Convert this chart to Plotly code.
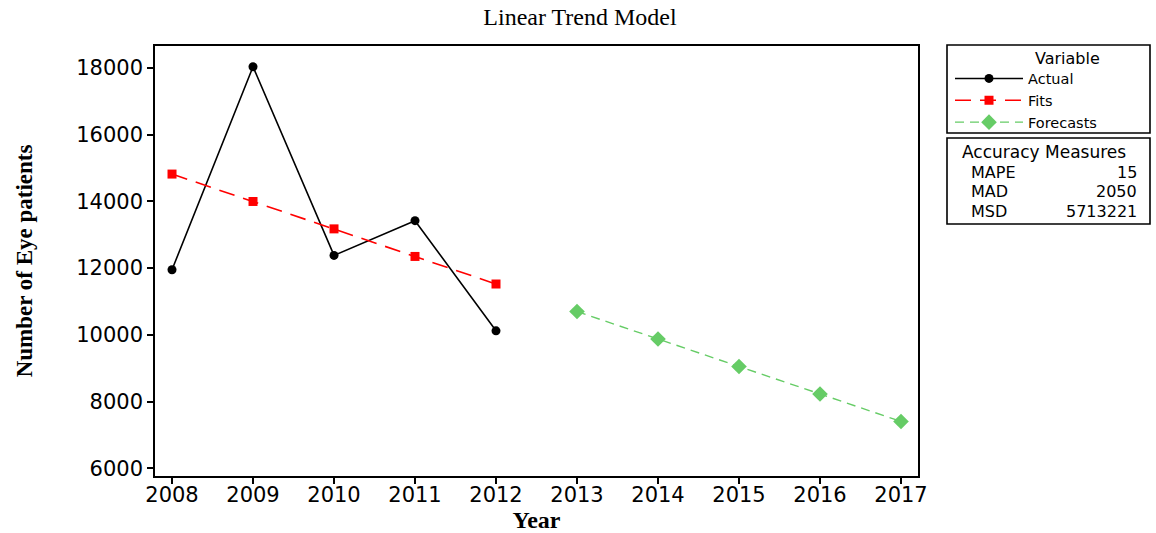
import plotly.graph_objects as go

years_fit = [2008, 2009, 2010, 2011, 2012]
actual = [11950, 18030, 12380, 13420, 10120]
fits = [14816, 13995, 13174, 12348, 11522]
years_fc = [2013, 2014, 2015, 2016, 2017]
forecasts = [10697, 9874, 9051, 8228, 7405]

x_ticks = list(range(2008, 2018))
y_ticks = [6000, 8000, 10000, 12000, 14000, 16000, 18000]

accuracy_labels = ["MAPE", "MAD", "MSD"]
accuracy_values = ["15", "2050", "5713221"]

sans = "DejaVu Sans"
serif = "Liberation Serif"

fig = go.Figure()
fig.add_trace(go.Scatter(x=years_fit, y=actual, name="Actual", mode="lines+markers",
                         line=dict(color="black", width=1.6),
                         marker=dict(symbol="circle", size=9, color="black")))
fig.add_trace(go.Scatter(x=years_fit, y=fits, name="Fits", mode="lines+markers",
                         line=dict(color="#ff0000", width=1.6, dash="16px,9px"),
                         marker=dict(symbol="square", size=9, color="#ff0000")))
fig.add_trace(go.Scatter(x=years_fc, y=forecasts, name="Forecasts", mode="lines+markers",
                         line=dict(color="#66cc66", width=1.4, dash="9px,6px"),
                         marker=dict(symbol="diamond", size=12, color="#66cc66")))

W, H = 1156, 533
L, R, T, B = 155, 238, 46, 57
pw, ph = W - L - R, H - T - B

def px(xp):
    return (xp - L) / pw

def py(yp):
    return (H - B - yp) / ph

fig.update_layout(
    width=W, height=H,
    margin=dict(l=L, r=R, t=T, b=B, autoexpand=False),
    plot_bgcolor="white", paper_bgcolor="white",
    title=dict(text="Linear Trend Model", x=580 / W, xanchor="center",
               y=1 - 17 / H, yanchor="middle",
               font=dict(family=serif, size=24, color="black")),
    xaxis=dict(range=[2007.79, 2017.21], tickmode="array", tickvals=x_ticks,
               ticktext=[str(v) for v in x_ticks], automargin=False,
               showgrid=False, zeroline=False, showline=True, linecolor="black",
               linewidth=1.6, mirror=True, ticks="outside", ticklen=6, tickwidth=1.6,
               tickcolor="black", tickfont=dict(family=sans, size=21, color="black"),
               ticklabelstandoff=-7,
               title=dict(text="<b>Year</b>", standoff=8,
                          font=dict(family=serif, size=24, color="black"))),
    yaxis=dict(range=[5770, 18653], tickmode="array", tickvals=y_ticks,
               ticktext=[str(v) for v in y_ticks], automargin=False,
               showgrid=False, zeroline=False, showline=True, linecolor="black",
               linewidth=1.6, mirror=True, ticks="outside", ticklen=6, tickwidth=1.6,
               tickcolor="black", tickfont=dict(family=sans, size=21, color="black"),
               title=dict(text="<b>Number of Eye patients</b>", standoff=37,
                          font=dict(family=serif, size=23, color="black"))),
    legend=dict(x=px(950), y=py(62.5), xanchor="left", yanchor="top",
                borderwidth=0, bgcolor="rgba(0,0,0,0)",
                font=dict(family=sans, size=14.5, color="black"),
                tracegroupgap=0, itemwidth=68),
    showlegend=True,
)

# Legend frame and heading
fig.add_shape(type="rect", xref="paper", yref="paper",
              x0=px(947), x1=px(1150), y0=py(133), y1=py(45),
              line=dict(color="black", width=1.6), fillcolor="rgba(0,0,0,0)")
fig.add_annotation(xref="paper", yref="paper", x=px(1067), y=py(58), xanchor="center",
                   yanchor="middle", text="Variable", showarrow=False,
                   font=dict(family=sans, size=16, color="black"))

# Accuracy measures box
fig.add_shape(type="rect", xref="paper", yref="paper",
              x0=px(947), x1=px(1150), y0=py(224), y1=py(138),
              line=dict(color="black", width=1.6), fillcolor="white")
fig.add_annotation(xref="paper", yref="paper", x=px(960), y=py(152), xanchor="left",
                   yanchor="middle", text="Accuracy Measures", showarrow=False,
                   font=dict(family=sans, size=17, color="black"))
for i, (lab, val) in enumerate(zip(accuracy_labels, accuracy_values)):
    yy = 172 + i * 19.5
    fig.add_annotation(xref="paper", yref="paper", x=px(969), y=py(yy), xanchor="left",
                       yanchor="middle", text=lab, showarrow=False,
                       font=dict(family=sans, size=16, color="black"))
    fig.add_annotation(xref="paper", yref="paper", x=px(1139), y=py(yy), xanchor="right",
                       yanchor="middle", text=val, showarrow=False,
                       font=dict(family=sans, size=16, color="black"))

fig.write_html("out.html", config={"displayModeBar": False},
               post_script="document.body.style.margin='0';")
